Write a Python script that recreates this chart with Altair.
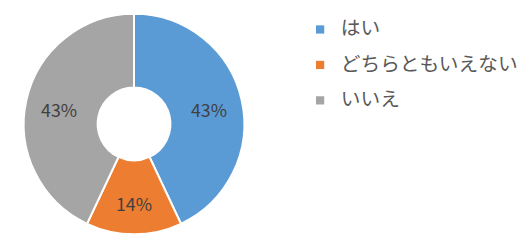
import altair as alt
import pandas as pd

categories = ["はい", "どちらともいえない", "いいえ"]
values = [43, 14, 43]
labels = ["43%", "14%", "43%"]
colors = ["#5B9BD5", "#ED7D31", "#A5A5A5"]

df = pd.DataFrame({
    "answer": categories,
    "value": values,
    "label": labels,
    "order": list(range(len(categories))),
})

base = alt.Chart(df).encode(
    theta=alt.Theta("value:Q", stack=True),
    order=alt.Order("order:O"),
)

arcs = base.mark_arc(outerRadius=112, innerRadius=37, stroke="white", strokeWidth=2).encode(
    color=alt.Color(
        "answer:N",
        scale=alt.Scale(domain=categories, range=colors),
        sort=categories,
        legend=alt.Legend(
            title=None,
            orient="none",
            legendX=307,
            legendY=10,
            padding=0,
            symbolType="square",
            symbolSize=70,
            symbolStrokeWidth=0,
            labelFont="Noto Sans CJK JP",
            labelFontSize=20,
            labelLimit=0,
            labelColor="#595959",
            labelOffset=11,
            rowPadding=16,
        ),
    )
)

text = base.mark_text(
    radius=78,
    dy=5,
    font="Noto Sans CJK JP",
    fontSize=18,
    color="#404040",
).encode(text="label:N")

chart = (
    alt.layer(arcs, text)
    .properties(width=256, height=232, padding=0)
    .configure_view(stroke=None)
)

chart.save("out.html", embed_options={"renderer": "svg", "actions": False})
